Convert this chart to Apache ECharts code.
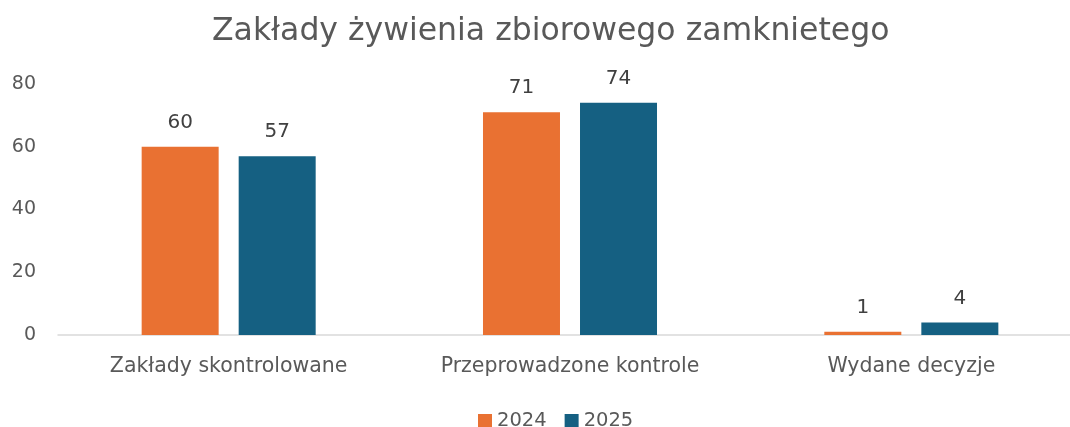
<!DOCTYPE html>
<html><head><meta charset="utf-8">
<script src="https://cdn.jsdelivr.net/npm/echarts@6/dist/echarts.min.js"></script>
<style>html,body{margin:0;padding:0;background:#fff}#c{width:1070px;height:427px}</style>
</head><body><div id="c"></div>
<script>
const categories = ['Zakłady skontrolowane', 'Przeprowadzone kontrole', 'Wydane decyzje'];
const values2024 = [60, 71, 1];
const values2025 = [57, 74, 4];
const seriesNames = ['2024', '2025'];
const yTicks = [0, 20, 40, 60, 80];

const font = 'DejaVu Sans, sans-serif';
const gray = '#595959';
const chart = echarts.init(document.getElementById('c'));
const label = {show: true, position: 'top', distance: 14, color: '#404040', fontSize: 20, fontFamily: font};
chart.setOption({
  animation: false,
  title: {text: 'Zakłady żywienia zbiorowego zamknietego', left: 207, top: 11,
    textStyle: {color: gray, fontSize: 31.5, fontWeight: 'normal', fontFamily: font}},
  legend: {top: 406, left: 473, itemWidth: 14, itemHeight: 14, itemGap: 18, icon: 'rect',
    textStyle: {color: gray, fontSize: 19.5, fontFamily: font}},
  grid: {left: 58, right: -12, top: 84, bottom: 92, outerBoundsMode: 'none'},
  xAxis: {type: 'category', data: categories,
    axisLine: {lineStyle: {color: '#d9d9d9', width: 1.5}}, axisTick: {show: false},
    axisLabel: {color: gray, fontSize: 20.5, fontFamily: font, margin: 21}},
  yAxis: {type: 'value', min: yTicks[0], max: yTicks[yTicks.length-1], interval: 20,
    axisLine: {show: false}, axisTick: {show: false}, splitLine: {show: false},
    axisLabel: {color: gray, fontSize: 19, fontFamily: font, margin: 22}},
  series: [
    {name: seriesNames[0], type: 'bar', data: values2024, barWidth: 77, barGap: '26%',
      itemStyle: {color: '#E97132'}, label},
    {name: seriesNames[1], type: 'bar', data: values2025, barWidth: 77,
      itemStyle: {color: '#156082'}, label}
  ]
});
</script></body></html>
